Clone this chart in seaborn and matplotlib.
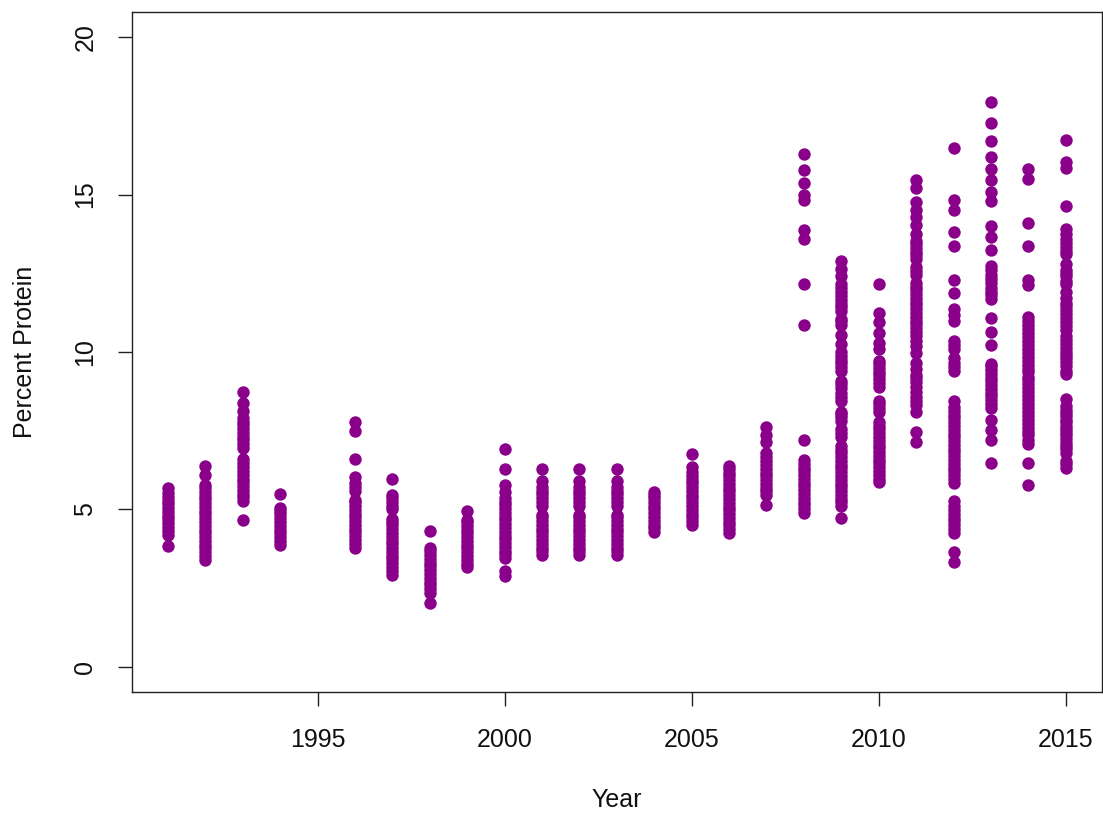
import matplotlib
matplotlib.use("Agg")
import matplotlib.pyplot as plt
import numpy as np
import pandas as pd
import seaborn as sns

# ---- data ----
years = [1991, 1992, 1993, 1994, 1996, 1997, 1998, 1999, 2000, 2001, 2002, 2003,
         2004, 2005, 2006, 2007, 2008, 2009, 2010, 2011, 2012, 2013, 2014, 2015]

p1991 = [3.85, 4.2, 4.32, 4.44, 4.56, 4.68, 4.8, 4.92, 5.04, 5.16, 5.28, 5.4, 5.52, 5.67]
p1992 = [3.40, 3.52, 3.64, 3.76, 3.88, 4.0, 4.12, 4.24, 4.36, 4.48, 4.6, 4.72, 4.84,
         4.96, 5.08, 5.2, 5.32, 5.44, 5.56, 5.68, 5.78, 6.08, 6.38]
p1993 = [4.66, 5.26, 5.38, 5.5, 5.62, 5.74, 5.86, 5.98, 6.1, 6.22, 6.34, 6.46, 6.6,
         6.95, 7.07, 7.19, 7.31, 7.43, 7.55, 7.67, 7.79, 7.9, 8.13, 8.38, 8.74]
p1994 = [3.88, 4.0, 4.12, 4.24, 4.36, 4.48, 4.6, 4.72, 4.84, 4.94, 5.03, 5.49]
p1996 = [3.79, 3.91, 4.03, 4.15, 4.27, 4.39, 4.51, 4.63, 4.75, 4.87, 4.99, 5.11, 5.23,
         5.3, 5.6, 5.72, 5.84, 6.02, 6.6, 7.5, 7.77]
p1997 = [2.93, 3.05, 3.17, 3.29, 3.41, 3.53, 3.65, 3.77, 3.89, 4.01, 4.13, 4.25, 4.37,
         4.49, 4.61, 4.7, 5.0, 5.12, 5.24, 5.36, 5.47, 5.97]
p1998 = [2.03, 2.35, 2.47, 2.59, 2.71, 2.83, 2.95, 3.07, 3.19, 3.31, 3.43, 3.55, 3.67,
         3.76, 4.32]
p1999 = [3.16, 3.28, 3.4, 3.52, 3.64, 3.76, 3.88, 4.0, 4.12, 4.24, 4.36, 4.48, 4.6,
         4.65, 4.95]
p2000 = [2.87, 3.05, 3.45, 3.57, 3.69, 3.81, 3.93, 4.05, 4.17, 4.29, 4.41, 4.53, 4.65,
         4.77, 4.89, 5.01, 5.13, 5.25, 5.37, 5.55, 5.79, 6.29, 6.92]
p2001 = [3.55, 3.67, 3.79, 3.91, 4.03, 4.15, 4.27, 4.39, 4.51, 4.63, 4.75, 4.82, 5.12,
         5.24, 5.36, 5.48, 5.6, 5.72, 5.9, 6.27]
p2002 = [3.55, 3.67, 3.79, 3.91, 4.03, 4.15, 4.27, 4.39, 4.51, 4.63, 4.75, 4.82, 5.12,
         5.24, 5.36, 5.48, 5.6, 5.72, 5.9, 6.27]
p2003 = [3.55, 3.67, 3.79, 3.91, 4.03, 4.15, 4.27, 4.39, 4.51, 4.63, 4.75, 4.82, 5.12,
         5.24, 5.36, 5.48, 5.6, 5.72, 5.9, 6.27]
p2004 = [4.28, 4.4, 4.52, 4.64, 4.76, 4.88, 5.0, 5.12, 5.24, 5.36, 5.46, 5.56]
p2005 = [4.51, 4.63, 4.75, 4.87, 4.99, 5.11, 5.23, 5.35, 5.47, 5.59, 5.71, 5.83, 5.95,
         6.07, 6.19, 6.36, 6.76]
p2006 = [4.25, 4.37, 4.49, 4.61, 4.73, 4.85, 4.97, 5.09, 5.21, 5.33, 5.45, 5.57, 5.69,
         5.81, 5.93, 6.05, 6.17, 6.28, 6.38]
p2007 = [5.15, 5.45, 5.57, 5.69, 5.81, 5.93, 6.05, 6.17, 6.29, 6.41, 6.53, 6.65, 6.78,
         7.13, 7.35, 7.61]
p2008 = [4.89, 5.01, 5.13, 5.25, 5.37, 5.49, 5.61, 5.73, 5.85, 5.97, 6.09, 6.21, 6.33,
         6.45, 6.57, 7.19, 10.86, 12.17, 13.60, 13.88, 14.84, 15.0, 15.37, 15.79, 16.28]
p2009 = [4.73, 5.1, 5.22, 5.34, 5.46, 5.58, 5.7, 5.82, 5.94, 6.06, 6.18, 6.3, 6.42,
         6.54, 6.66, 6.78, 6.9, 7.0, 7.3, 7.42, 7.54, 7.8, 7.92, 8.04, 8.1, 8.45, 8.57,
         8.7, 8.85, 8.97, 9.09, 9.4, 9.52, 9.64, 9.76, 9.88, 10.0, 10.25, 10.55, 10.85,
         10.97, 11.05, 11.3, 11.42, 11.54, 11.66, 11.78, 11.9, 12.02, 12.15, 12.4,
         12.65, 12.89]
p2010 = [5.86, 5.98, 6.1, 6.22, 6.34, 6.46, 6.58, 6.7, 6.82, 6.94, 7.06, 7.18, 7.3,
         7.42, 7.54, 7.66, 7.78, 8.1, 8.22, 8.34, 8.45, 8.9, 9.02, 9.14, 9.26, 9.38,
         9.5, 9.62, 9.7, 10.1, 10.3, 10.6, 10.95, 11.25, 12.16]
p2011 = [7.15, 7.47, 8.1, 8.32, 8.45, 8.58, 8.72, 8.9, 9.05, 9.16, 9.27, 9.45, 9.64,
         9.96, 10.2, 10.35, 10.52, 10.64, 10.76, 10.88, 11.0, 11.12, 11.24, 11.36,
         11.48, 11.6, 11.72, 11.84, 11.96, 12.08, 12.2, 12.45, 12.57, 12.69, 12.95,
         13.07, 13.19, 13.31, 13.43, 13.53, 13.75, 14.04, 14.3, 14.51, 14.78, 15.2, 15.47]
p2012 = [3.34, 3.65, 4.26, 4.38, 4.5, 4.62, 4.74, 4.86, 4.98, 5.1, 5.28, 5.85, 5.97,
         6.09, 6.21, 6.33, 6.45, 6.57, 6.69, 6.81, 6.93, 7.05, 7.17, 7.29, 7.41, 7.53,
         7.65, 7.77, 7.89, 8.01, 8.13, 8.25, 8.45, 9.4, 9.52, 9.64, 9.8, 10.1, 10.22,
         10.36, 11.0, 11.18, 11.36, 11.87, 12.29, 13.37, 13.82, 14.51, 14.83, 16.47]
p2013 = [6.46, 7.2, 7.52, 7.84, 8.23, 8.35, 8.47, 8.59, 8.71, 8.83, 8.95, 9.07, 9.19,
         9.31, 9.43, 9.55, 9.62, 10.22, 10.64, 11.07, 11.67, 11.8, 11.92, 12.04, 12.2,
         12.32, 12.45, 12.6, 12.74, 13.24, 13.66, 14.0, 14.8, 15.07, 15.47, 15.8, 16.19,
         16.71, 17.29, 17.95]
p2014 = [5.77, 6.46, 7.07, 7.2, 7.35, 7.47, 7.6, 7.72, 7.85, 7.97, 8.1, 8.22, 8.35,
         8.47, 8.6, 8.72, 8.85, 8.97, 9.1, 9.22, 9.35, 9.47, 9.6, 9.72, 9.85, 9.97,
         10.1, 10.22, 10.35, 10.47, 10.6, 10.72, 10.85, 10.97, 11.1, 12.13, 12.29,
         13.37, 14.09, 15.48, 15.8]
p2015 = [6.32, 6.44, 6.55, 6.8, 6.92, 7.0, 7.12, 7.25, 7.37, 7.45, 7.57, 7.65, 7.77,
         7.85, 7.97, 8.05, 8.17, 8.3, 8.5, 9.29, 9.41, 9.55, 9.67, 9.8, 9.92, 10.0,
         10.12, 10.25, 10.37, 10.5, 10.7, 10.82, 10.95, 11.07, 11.2, 11.32, 11.45,
         11.57, 11.7, 11.9, 12.15, 12.27, 12.4, 12.52, 12.6, 12.8, 13.1, 13.22, 13.35,
         13.47, 13.6, 13.75, 13.91, 14.64, 15.84, 16.05, 16.74]

values = [p1991, p1992, p1993, p1994, p1996, p1997, p1998, p1999, p2000, p2001,
          p2002, p2003, p2004, p2005, p2006, p2007, p2008, p2009, p2010, p2011,
          p2012, p2013, p2014, p2015]

x_ticks = [1995, 2000, 2005, 2010, 2015]
y_ticks = [0, 5, 10, 15, 20]

df = pd.DataFrame({
    "Year": [y for y, v in zip(years, values) for _ in v],
    "Protein": [p for v in values for p in v],
})

# ---- styling ----
sns.set_theme(style="white")
plt.rcParams["font.family"] = ["Liberation Sans", "DejaVu Sans"]

W, H = 1103, 817
fig = plt.figure(figsize=(W / 100, H / 100), dpi=100)
left, right, top, bottom = 132, 1101.7, 12, 692
ax = fig.add_axes([left / W, 1 - bottom / H, (right - left) / W, (bottom - top) / H])

sns.scatterplot(data=df, x="Year", y="Protein", color="#8B008B", s=80,
                linewidth=0, alpha=1, ax=ax, legend=False)

ax.set_xlim(1990.04, 2015.96)
ax.set_ylim(-0.8, 20.8)
ax.set_xticks(x_ticks)
ax.set_xticklabels([str(t) for t in x_ticks])
ax.set_yticks(y_ticks)
ax.set_yticklabels([str(t) for t in y_ticks], rotation=90, va="center")

ax.tick_params(axis="both", direction="out", length=10, width=1,
               color="#222222", labelsize=18, labelcolor="#111111",
               bottom=True, left=True, top=False, right=False)
ax.tick_params(axis="x", pad=16)
ax.tick_params(axis="y", pad=15)

for sp in ax.spines.values():
    sp.set_visible(True)
    sp.set_color("#222222")
    sp.set_linewidth(1.0)

ax.set_xlabel("Year", fontsize=18, color="#111111", va="center")
ax.set_ylabel("Percent Protein", fontsize=18, color="#111111", va="center")
ax.xaxis.set_label_coords(0.5, -(800 - bottom) / (bottom - top))
ax.yaxis.set_label_coords((25 - left) / (right - left), 0.5)
ax.grid(False)

fig.savefig("out.png", dpi=100)
